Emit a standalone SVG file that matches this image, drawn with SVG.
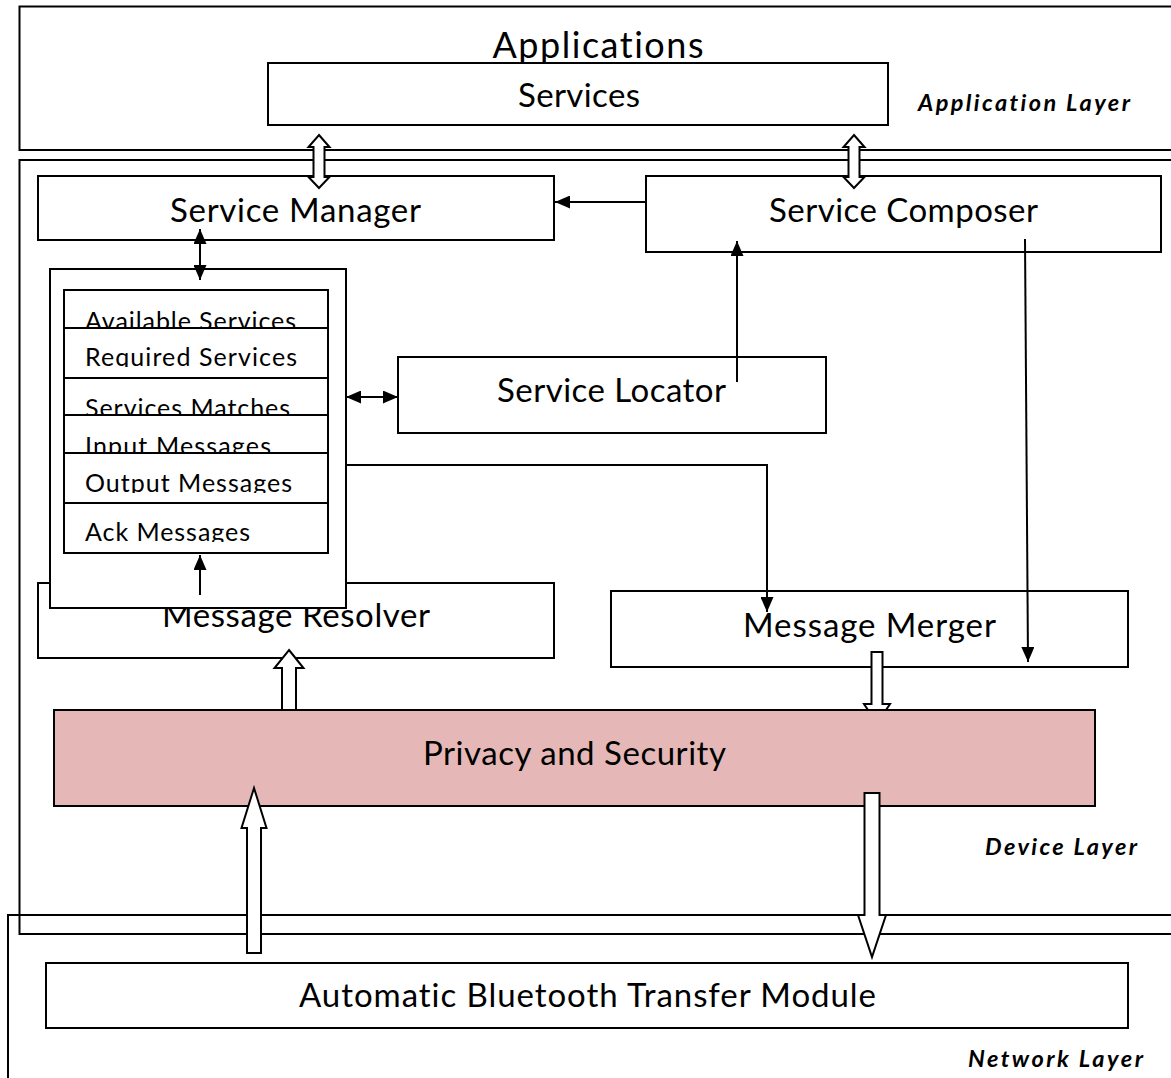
<svg xmlns="http://www.w3.org/2000/svg" width="1171" height="1078" viewBox="0 0 1171 1078">
<style>
  .frame{fill:none;stroke:#000;stroke-width:2}
  .box{fill:#fff;stroke:#000;stroke-width:2}
  .pink{fill:#e5b8b7;stroke:#000;stroke-width:2}
  .t{font-family:Lato,"Liberation Sans",sans-serif;fill:#000;font-variant-ligatures:none}
  .big{font-size:33px;text-anchor:middle}
  .row{font-size:25px}
  .layer{font-size:23.5px;font-weight:bold;font-style:italic}
  .ln{fill:none;stroke:#000;stroke-width:2}
  .hollow{fill:#fff;stroke:#000;stroke-width:2;stroke-linejoin:miter}
</style>
<defs>
  <marker id="ah" viewBox="0 0 15 13" refX="15" refY="6.5" markerWidth="15" markerHeight="13" markerUnits="userSpaceOnUse" orient="auto-start-reverse">
    <path d="M0,0 L15,6.5 L0,13 z" fill="#000"/>
  </marker>
  <clipPath id="c1"><rect x="64" y="290" width="264" height="37"/></clipPath>
  <clipPath id="c2"><rect x="64" y="328" width="264" height="39"/></clipPath>
  <clipPath id="c3"><rect x="64" y="378" width="264" height="36"/></clipPath>
  <clipPath id="c4"><rect x="64" y="415" width="264" height="37"/></clipPath>
  <clipPath id="c5"><rect x="64" y="453" width="264" height="40"/></clipPath>
  <clipPath id="c6"><rect x="64" y="503" width="264" height="39"/></clipPath>
</defs>

<g id="layers">
  <rect id="application-layer" class="frame" x="19.5" y="6.5" width="1200" height="143.5"/>
  <rect id="device-layer" class="frame" x="19.5" y="160" width="1200" height="774"/>
  <rect id="network-layer" class="frame" x="8" y="915" width="1200" height="200"/>
  <text class="t layer" x="918" y="111" textLength="212">Application Layer</text>
  <text class="t layer" x="985" y="855" textLength="152">Device Layer</text>
  <text class="t layer" x="968" y="1067" textLength="175">Network Layer</text>
</g>

<g id="services">
  <rect class="box" x="268" y="63" width="620" height="62"/>
  <text class="t big" x="579" y="107" textLength="122">Services</text>
</g>
<g id="applications">
  <text class="t" style="font-size:36px;text-anchor:middle" x="598" y="58" textLength="211">Applications</text>
</g>

<g id="service-manager">
  <rect class="box" x="38" y="176" width="516" height="64"/>
  <text class="t big" x="295.5" y="222" textLength="251">Service Manager</text>
</g>

<g id="service-composer">
  <rect class="box" x="646" y="176" width="515" height="76"/>
  <text class="t big" x="903.5" y="222" textLength="269">Service Composer</text>
</g>

<g id="service-locator">
  <rect class="box" x="398" y="357" width="428" height="76"/>
  <text class="t big" x="611.5" y="402" textLength="229">Service Locator</text>
</g>

<g id="message-resolver">
  <rect class="box" x="38" y="583" width="516" height="75"/>
  <text class="t big" x="296" y="627" textLength="268">Message Resolver</text>
</g>

<g id="message-merger">
  <rect class="box" x="611" y="591" width="517" height="76"/>
  <text class="t big" x="869.5" y="637" textLength="253">Message Merger</text>
</g>

<g id="repository">
  <rect class="box" x="50" y="269" width="296" height="339"/>
  <rect class="box" x="64" y="290" width="264" height="263"/>
  <line class="ln" x1="64" y1="328" x2="328" y2="328"/>
  <line class="ln" x1="64" y1="378" x2="328" y2="378"/>
  <line class="ln" x1="64" y1="415" x2="328" y2="415"/>
  <line class="ln" x1="64" y1="453" x2="328" y2="453"/>
  <line class="ln" x1="64" y1="503" x2="328" y2="503"/>
  <text class="t row" x="85" y="330" textLength="211" clip-path="url(#c1)">Available Services</text>
  <text class="t row" x="85" y="366" textLength="212" clip-path="url(#c2)">Required Services</text>
  <text class="t row" x="85" y="417" textLength="205" clip-path="url(#c3)">Services Matches</text>
  <text class="t row" x="85" y="455" textLength="186" clip-path="url(#c4)">Input Messages</text>
  <text class="t row" x="85" y="492" textLength="207" clip-path="url(#c5)">Output Messages</text>
  <text class="t row" x="85" y="541" textLength="165" clip-path="url(#c6)">Ack Messages</text>
</g>

<g id="privacy-security">
  <rect class="pink" x="54" y="710" width="1041" height="96"/>
  <text class="t big" x="574.5" y="765" textLength="303">Privacy and Security</text>
</g>

<g id="bluetooth-module">
  <rect class="box" x="46" y="963" width="1082" height="65"/>
  <text class="t big" x="587.5" y="1007" textLength="577">Automatic Bluetooth Transfer Module</text>
</g>

<g id="connectors">
  <polygon class="hollow" points="319,135 329.5,147 324.5,147 324.5,177 329.5,177 319,188 308.5,177 313.5,177 313.5,147 308.5,147"/>
  <polygon class="hollow" points="854,135 864.5,147 859.5,147 859.5,177 864.5,177 854,188 843.5,177 848.5,177 848.5,147 843.5,147"/>
  <line class="ln" x1="646" y1="202" x2="555" y2="202" marker-end="url(#ah)"/>
  <line class="ln" x1="200" y1="229" x2="200" y2="280" marker-start="url(#ah)" marker-end="url(#ah)"/>
  <line class="ln" x1="346" y1="397" x2="398" y2="397" marker-start="url(#ah)" marker-end="url(#ah)"/>
  <line class="ln" x1="737" y1="382" x2="737" y2="241" marker-end="url(#ah)"/>
  <line class="ln" x1="1025" y1="239" x2="1028" y2="662" marker-end="url(#ah)"/>
  <polyline class="ln" points="346,465 767,465 767,612" marker-end="url(#ah)"/>
  <line class="ln" x1="200" y1="595" x2="200" y2="555" marker-end="url(#ah)"/>
  <polygon class="hollow" points="289,650 303.5,668 296,668 296,710 282,710 282,668 274.5,668"/>
  <polygon class="hollow" points="871.5,652 882.5,652 882.5,704 890,704 886,710 868,710 864,704 871.5,704"/>
  <polygon class="hollow" points="254,788 266.5,828 261,828 261,953 247,953 247,828 241.5,828"/>
  <polygon class="hollow" points="864.5,793 879.5,793 879.5,915 886,915 872,957 858,915 864.5,915"/>
</g>
</svg>
